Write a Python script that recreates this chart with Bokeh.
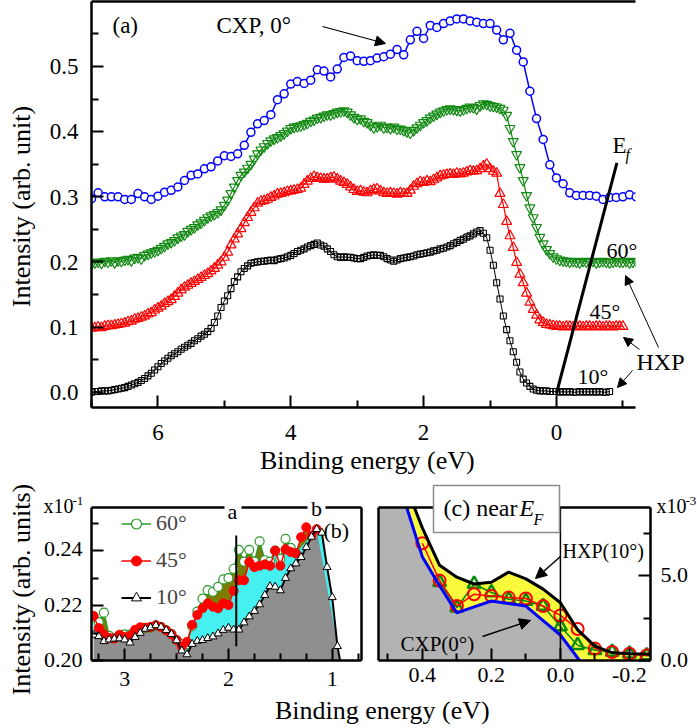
import numpy as np
from bokeh.plotting import figure
from bokeh.layouts import column, row
from bokeh.models import (Range1d, FixedTicker, LinearAxis, Label, Arrow, NormalHead, Span,
                          Legend, LegendItem, BoxAnnotation, GlobalInlineStyleSheet,
                          CustomLabelingPolicy)
from bokeh.embed import file_html
from bokeh.resources import INLINE

FONT = "Liberation Serif"

# ---------------- panel (a) data ----------------
E_CXP0 = np.round(np.linspace(7.0, -1.2, 83), 3)
CXP_0 = [0.297, 0.306, 0.300, 0.300, 0.300, 0.296, 0.296, 0.305, 0.300, 0.296,
         0.301, 0.307, 0.310, 0.315, 0.325, 0.333, 0.335, 0.343, 0.346, 0.355,
         0.363, 0.362, 0.366, 0.379, 0.399, 0.412, 0.417, 0.426, 0.449, 0.458,
         0.473, 0.477, 0.474, 0.479, 0.495, 0.493, 0.484, 0.496, 0.514, 0.516,
         0.509, 0.508, 0.509, 0.513, 0.515, 0.519, 0.526, 0.518, 0.541, 0.554,
         0.543, 0.563, 0.560, 0.566, 0.570, 0.573, 0.573, 0.570, 0.568, 0.566,
         0.566, 0.556, 0.541, 0.551, 0.525, 0.507, 0.462, 0.420, 0.388, 0.349,
         0.329, 0.320, 0.306, 0.302, 0.302, 0.302, 0.301, 0.296, 0.299, 0.299,
         0.300, 0.303, 0.300]

E_HXP60 = np.round(np.linspace(7.0, -1.2, 165), 3)
HXP_60 = [0.197, 0.199, 0.200, 0.198, 0.201, 0.200, 0.202, 0.199, 0.202, 0.201,
          0.203, 0.204, 0.202, 0.206, 0.207, 0.205, 0.210, 0.212, 0.214, 0.216,
          0.218, 0.221, 0.224, 0.228, 0.230, 0.233, 0.237, 0.240, 0.242, 0.247,
          0.250, 0.253, 0.257, 0.260, 0.264, 0.268, 0.271, 0.273, 0.276, 0.280,
          0.287, 0.295, 0.305, 0.315, 0.325, 0.333, 0.338, 0.344, 0.350, 0.358,
          0.366, 0.372, 0.377, 0.382, 0.386, 0.389, 0.391, 0.394, 0.397, 0.401,
          0.405, 0.407, 0.408, 0.409, 0.411, 0.413, 0.416, 0.418, 0.421, 0.422,
          0.424, 0.426, 0.426, 0.428, 0.430, 0.431, 0.432, 0.430, 0.426, 0.422,
          0.419, 0.420, 0.416, 0.414, 0.410, 0.406, 0.408, 0.410, 0.406, 0.407,
          0.405, 0.407, 0.404, 0.404, 0.402, 0.400, 0.398, 0.402, 0.406, 0.410,
          0.414, 0.417, 0.421, 0.424, 0.427, 0.430, 0.432, 0.434, 0.435, 0.434,
          0.433, 0.432, 0.434, 0.436, 0.438, 0.437, 0.435, 0.440, 0.443, 0.442,
          0.440, 0.439, 0.438, 0.436, 0.433, 0.425, 0.405, 0.385, 0.365, 0.345,
          0.325, 0.302, 0.283, 0.268, 0.253, 0.238, 0.228, 0.219, 0.213, 0.208,
          0.205, 0.203, 0.202, 0.201, 0.200, 0.201, 0.200, 0.199, 0.201, 0.200,
          0.200, 0.201, 0.199, 0.200, 0.201, 0.200, 0.199, 0.200, 0.201, 0.200,
          0.200, 0.201, 0.199, 0.200, 0.201]

E_HXP45 = np.round(np.linspace(7.0, -1.0, 161), 3)
HXP_45 = [0.098, 0.099, 0.100, 0.099, 0.101, 0.102, 0.102, 0.103, 0.104, 0.105,
          0.106, 0.108, 0.109, 0.112, 0.113, 0.115, 0.117, 0.120, 0.122, 0.126,
          0.129, 0.132, 0.136, 0.139, 0.142, 0.147, 0.152, 0.157, 0.161, 0.164,
          0.167, 0.170, 0.173, 0.176, 0.179, 0.182, 0.186, 0.190, 0.195, 0.200,
          0.207, 0.215, 0.226, 0.235, 0.243, 0.251, 0.260, 0.268, 0.276, 0.283,
          0.290, 0.293, 0.294, 0.296, 0.299, 0.301, 0.304, 0.305, 0.306, 0.308,
          0.309, 0.310, 0.311, 0.313, 0.319, 0.324, 0.328, 0.331, 0.329, 0.328,
          0.327, 0.327, 0.329, 0.330, 0.327, 0.324, 0.322, 0.319, 0.315, 0.311,
          0.308, 0.309, 0.307, 0.306, 0.309, 0.311, 0.312, 0.309, 0.306, 0.305,
          0.306, 0.305, 0.304, 0.306, 0.305, 0.305, 0.310, 0.316, 0.320, 0.323,
          0.322, 0.324, 0.323, 0.326, 0.329, 0.332, 0.333, 0.334, 0.335, 0.334,
          0.336, 0.335, 0.336, 0.338, 0.340, 0.339, 0.340, 0.343, 0.347, 0.350,
          0.343, 0.339, 0.336, 0.305, 0.288, 0.262, 0.240, 0.222, 0.199, 0.181,
          0.168, 0.152, 0.138, 0.127, 0.118, 0.111, 0.107, 0.104, 0.103, 0.102,
          0.101, 0.101, 0.100, 0.101, 0.101, 0.100, 0.101, 0.101, 0.100, 0.101,
          0.101, 0.100, 0.101, 0.101, 0.100, 0.101, 0.101, 0.100, 0.101, 0.101,
          0.101]

E_HXP10 = np.round(np.linspace(7.0, -0.8, 157), 3)
HXP_10 = [0.000, 0.001, 0.001, 0.002, 0.002, 0.002, 0.003, 0.004, 0.005, 0.006,
          0.007, 0.009, 0.011, 0.013, 0.015, 0.018, 0.021, 0.025, 0.029, 0.034,
          0.039, 0.044, 0.048, 0.052, 0.056, 0.059, 0.062, 0.066, 0.069, 0.072,
          0.075, 0.079, 0.082, 0.086, 0.089, 0.093, 0.098, 0.107, 0.117, 0.130,
          0.140, 0.148, 0.159, 0.170, 0.177, 0.185, 0.190, 0.194, 0.198, 0.199,
          0.200, 0.201, 0.201, 0.202, 0.203, 0.202, 0.204, 0.205, 0.206, 0.208,
          0.210, 0.213, 0.216, 0.218, 0.220, 0.223, 0.225, 0.227, 0.229, 0.226,
          0.224, 0.220, 0.216, 0.211, 0.208, 0.207, 0.208, 0.207, 0.207, 0.206,
          0.205, 0.205, 0.207, 0.209, 0.210, 0.211, 0.210, 0.210, 0.208, 0.205,
          0.203, 0.201, 0.203, 0.205, 0.206, 0.207, 0.208, 0.209, 0.211, 0.212,
          0.213, 0.214, 0.215, 0.217, 0.218, 0.220, 0.221, 0.223, 0.225, 0.228,
          0.230, 0.233, 0.235, 0.238, 0.240, 0.243, 0.246, 0.248, 0.244, 0.237,
          0.218, 0.195, 0.168, 0.143, 0.117, 0.096, 0.079, 0.062, 0.046, 0.031,
          0.020, 0.014, 0.009, 0.005, 0.003, 0.002, 0.002, 0.002, 0.001, 0.001,
          0.001, 0.000, 0.001, 0.000, 0.001, 0.000, 0.000, 0.001, 0.000, 0.001,
          0.000, 0.001, 0.000, 0.001, 0.000, 0.000, 0.001]

EF_X = [0.0, -0.91]
EF_Y = [-0.002, 0.352]

A_XTICKS = [6, 4, 2, 0]
A_XMINOR = [7, 5, 3, 1, -1]
A_YTICKS = [0.0, 0.1, 0.2, 0.3, 0.4, 0.5]
A_YMINOR = [0.05, 0.15, 0.25, 0.35, 0.45, 0.55]

# ---------------- panel (b) data ----------------
nan = float("nan")
B_E = [3.30, 3.25, 3.20, 3.15, 3.10, 3.05, 3.00, 2.95, 2.90, 2.85,
       2.80, 2.75, 2.70, 2.65, 2.60, 2.55, 2.50, 2.45, 2.40, 2.35,
       2.30, 2.25, 2.20, 2.15, 2.10, 2.05, 2.00, 1.95, 1.90, 1.85,
       1.80, 1.75, 1.70, 1.65, 1.60, 1.55, 1.50, 1.45, 1.40, 1.35,
       1.30, 1.25, 1.20, 1.15, 1.10, 1.05, 1.00, 0.95, 0.90]
B_10 = [0.2093, 0.2088, 0.2070, 0.2076, 0.2079, 0.2080, 0.2076, 0.2065, 0.2085, 0.2100,
        0.2115, 0.2120, 0.2128, 0.2122, 0.2110, 0.2096, 0.2073, 0.2036, 0.2022, 0.2060,
        0.2071, 0.2074, 0.2081, 0.2087, 0.2098, 0.2111, 0.2119, 0.2112, 0.2112, 0.2138,
        0.2160, 0.2180, 0.2204, 0.2238, 0.2270, 0.2268, 0.2255, 0.2300, 0.2335, 0.2353,
        0.2376, 0.2412, 0.2450, 0.2478, 0.2465, 0.2340, 0.2230, 0.2052, 0.1950]
B_45 = [0.2162, 0.2118, 0.2095, 0.2082, 0.2080, 0.2094, 0.2085, 0.2090, 0.2112, 0.2121,
        0.2120, 0.2122, 0.2128, 0.2122, 0.2110, 0.2096, 0.2075, 0.2050, 0.2068, 0.2130,
        0.2166, 0.2190, 0.2208, 0.2196, 0.2190, 0.2208, 0.2202, 0.2254, 0.2292, 0.2292,
        0.2358, 0.2340, 0.2345, 0.2350, 0.2345, 0.2400, 0.2345, 0.2405, 0.2395, 0.2390,
        0.2449, 0.2485, 0.2455, 0.2478, nan, nan, nan, nan, nan]
B_60 = [0.2160, 0.2140, 0.2174, 0.2090, 0.2082, 0.2090, 0.2095, 0.2094, 0.2100, 0.2112,
        0.2118, 0.2120, 0.2128, 0.2122, 0.2110, 0.2096, 0.2073, 0.2061, 0.2060, 0.2125,
        0.2178, 0.2225, 0.2256, 0.2250, 0.2268, 0.2295, 0.2300, 0.2334, 0.2403, 0.2360,
        0.2403, 0.2360, 0.2434, 0.2365, 0.2360, 0.2400, 0.2370, 0.2443, 0.2410, 0.2390,
        nan, nan, nan, nan, nan, nan, nan, nan, nan]
B_MARK_A_X = [1.925, 1.925]
B_MARK_A_Y = [0.2052, 0.2455]
B_XTICKS = [3, 2, 1]
B_XMINOR = [3.25, 2.75, 2.5, 2.25, 1.75, 1.5, 1.25, 0.75]
B_YTICKS = [0.20, 0.22, 0.24]
B_YMINOR = [0.21, 0.23, 0.25]

# ---------------- panel (c) data (x10^-3) ----------------
C_E = [0.55, 0.50, 0.45, 0.40, 0.35, 0.30, 0.25, 0.20, 0.15, 0.10,
       0.05, 0.00, -0.05, -0.10, -0.15, -0.20, -0.25, -0.30]
C_CXP0 = [15.0, 12.5, 9.3, 6.1, 4.4, 2.8, 3.15, 3.5, 3.35, 3.2,
          2.35, 1.5, 0.15, -1.2, nan, nan, nan, nan]
C_HXP10 = [15.8, 13.1, 10.4, 7.8, 5.6, 4.9, 4.5, 4.6, 5.2, 4.8,
           4.2, 3.4, 1.8, 0.85, 0.45, 0.4, 0.38, 0.3]
C_HXP45 = [nan, nan, nan, 6.9, 4.7, 3.2, 3.9, 3.8, 3.7, 3.65,
           3.2, 2.65, 1.85, 0.7, 0.5, 0.4, 0.3, 0.2]
C_HXP60 = [nan, nan, nan, nan, 4.6, 3.1, 4.5, 4.0, 3.6, 3.5,
           3.2, 2.0, 0.9, 0.6, 0.5, 0.4, 0.3, 0.25]
C_XTICKS = [0.4, 0.2, 0.0, -0.2]
C_XMINOR = [0.5, 0.3, 0.1, -0.1]
C_YTICKS = [0.0, 5.0]
C_YMINOR = [2.5, 7.5]

# ---------------- page geometry of the three frames (px) ----------------
W, H = 697, 728
TOP_F = dict(l=91, r=635, t=1, b=407)
B_F = dict(l=91, r=361, t=506, b=660)
C_F = dict(l=378, r=650, t=507, b=660)
ROW_Y = 480
BH = H - ROW_Y

HIDE_LABELS = CustomLabelingPolicy(
    code="const n = indices.size; for (let i = 0; i < n; i++) { indices.unset(i) } return indices")

# Times-compatible advance widths (1/1000 em) for placing left-anchored texts
TW = {" ": 250, "(": 333, ")": 333, ".": 250, "-": 333, ",": 250, "°": 400,
      "B": 667, "C": 667, "E": 611, "F": 556, "H": 722, "I": 333, "P": 556, "V": 722, "X": 722,
      "a": 444, "b": 500, "c": 444, "d": 500, "e": 444, "f": 333, "g": 500, "i": 278, "n": 500,
      "r": 333, "s": 389, "t": 278, "u": 500, "y": 500, "x": 500}


def tw(text, size):
    return sum(TW.get(c, 500) for c in text) * size / 1000.0


def mapper(f, xr, yr):
    def mx(v):
        return f["l"] + (v - xr.start) / (xr.end - xr.start) * (f["r"] - f["l"])

    def my(v):
        return f["b"] - (v - yr.start) / (yr.end - yr.start) * (f["b"] - f["t"])
    return mx, my


def style_axis(ax):
    ax.axis_line_width = 2.5
    ax.axis_line_color = "black"
    ax.major_tick_line_width = 2
    ax.minor_tick_line_width = 2
    ax.major_tick_line_color = "black"
    ax.minor_tick_line_color = "black"
    ax.major_tick_in = 12
    ax.major_tick_out = 0
    ax.minor_tick_in = 7
    ax.minor_tick_out = 0
    ax.major_label_policy = HIDE_LABELS


def bare_axis(fig, place):
    ax = LinearAxis(ticker=FixedTicker(ticks=[]), axis_line_width=2.5, axis_line_color="black",
                    major_tick_in=0, major_tick_out=0, minor_tick_in=0, minor_tick_out=0)
    fig.add_layout(ax, place)


def base_fig(w, h, xr, yr, f, x0, y0, **kw):
    p = figure(width=w, height=h, x_range=xr, y_range=yr, output_backend="svg",
               toolbar_location=None,
               min_border_left=f["l"] - x0, min_border_right=x0 + w - f["r"],
               min_border_top=f["t"] - y0, min_border_bottom=y0 + h - f["b"], **kw)
    p.outline_line_color = None
    p.xgrid.visible = False
    p.ygrid.visible = False
    p.border_fill_color = "white"
    for ax in p.xaxis + p.yaxis:
        style_axis(ax)
    return p

# ---------------- panel (a) ----------------
top = base_fig(W, ROW_Y, Range1d(7.0, -1.19), Range1d(-0.0235, 0.5998), TOP_F, 0, 0)
top.xaxis.ticker = FixedTicker(ticks=A_XTICKS, minor_ticks=A_XMINOR)
top.yaxis.ticker = FixedTicker(ticks=A_YTICKS, minor_ticks=A_YMINOR)
bare_axis(top, "above")

GA = "#138a13"
top.line(E_CXP0, CXP_0, line_color="blue", line_width=1.5)
top.scatter(E_CXP0, CXP_0, marker="circle", size=8, line_color="blue", fill_color="white", line_width=1.5)
top.line(E_HXP60, HXP_60, line_color=GA, line_width=1.2)
top.scatter(E_HXP60, HXP_60, marker="inverted_triangle", size=10, line_color=GA, fill_color=None, line_width=1.2)
top.line(E_HXP45, HXP_45, line_color="red", line_width=1.2)
top.scatter(E_HXP45, HXP_45, marker="triangle", size=10, line_color="red", fill_color=None, line_width=1.2)
top.line(E_HXP10, HXP_10, line_color="black", line_width=1.0)
top.scatter(E_HXP10, HXP_10, marker="square", size=6, line_color="black", fill_color=None, line_width=1.1)
top.line(EF_X, EF_Y, line_color="black", line_width=3)

# ---------------- panel (b) ----------------
pb = base_fig(370, BH, Range1d(3.32, 0.718), Range1d(0.20, 0.2557), B_F, 0, ROW_Y)
pb.xaxis.ticker = FixedTicker(ticks=B_XTICKS, minor_ticks=B_XMINOR)
pb.yaxis.ticker = FixedTicker(ticks=B_YTICKS, minor_ticks=B_YMINOR)
bare_axis(pb, "above")
bare_axis(pb, "right")

GB = "#2a9a2a"
pb.varea(x=B_E, y1=pb.y_range.start - 0.01, y2=B_10, fill_color="#8f8f8f")
pb.varea(x=B_E, y1=B_10, y2=B_45, fill_color="#45f0f0")
pb.varea(x=B_E, y1=B_45, y2=B_60, fill_color="#7d7d05")
l60 = pb.line(B_E, B_60, line_color=GB, line_width=1.5)
s60 = pb.scatter(B_E, B_60, marker="circle", size=9, line_color=GB, fill_color="white", line_width=1.2)
l45 = pb.line(B_E, B_45, line_color="red", line_width=1.5)
s45 = pb.scatter(B_E, B_45, marker="circle", size=9, line_color="red", fill_color="red")
l10 = pb.line(B_E, B_10, line_color="black", line_width=2)
s10 = pb.scatter(B_E, B_10, marker="triangle", size=8, line_color="black", fill_color="white", line_width=1)
pb.line(B_MARK_A_X, B_MARK_A_Y, line_color="black", line_width=2)

leg = Legend(items=[LegendItem(label="60°", renderers=[l60, s60]),
                    LegendItem(label="45°", renderers=[l45, s45]),
                    LegendItem(label="10°", renderers=[l10, s10])],
             location=(30, 50), orientation="vertical")
leg.background_fill_alpha = 0
leg.border_line_color = None
leg.label_text_font = FONT
leg.label_text_font_size = "22px"
leg.glyph_width = 30
leg.glyph_height = 25
leg.label_height = 25
leg.spacing = 11
leg.padding = 0
leg.margin = 0
leg.label_standoff = 5
pb.add_layout(leg)

# ---------------- panel (c) ----------------
pc = base_fig(W - 370, BH, Range1d(0.527, -0.261), Range1d(0.0, 9.0), C_F, 370, ROW_Y,
              y_axis_location="right")
for ax in pc.yaxis:
    style_axis(ax)
pc.xaxis.ticker = FixedTicker(ticks=C_XTICKS, minor_ticks=C_XMINOR)
pc.yaxis.ticker = FixedTicker(ticks=C_YTICKS, minor_ticks=C_YMINOR)
bare_axis(pc, "above")
bare_axis(pc, "left")

cxp_floor = np.nan_to_num(np.clip(np.array(C_CXP0), 0, None), nan=0.0)
pc.varea(x=C_E, y1=0.0, y2=C_CXP0, fill_color="#b3b3b3")
pc.varea(x=C_E, y1=cxp_floor, y2=C_HXP10, fill_color="#fafa3c")
GC = "#0a8a0a"
pc.line(C_E, C_HXP60, line_color=GC, line_width=1.5)
pc.scatter(C_E, C_HXP60, marker="triangle", size=13, line_color=GC, fill_color=None, line_width=2.5)
pc.line(C_E, C_HXP45, line_color="red", line_width=1.5)
pc.scatter(C_E, C_HXP45, marker="circle", size=12, line_color="red", fill_color=None, line_width=2)
pc.line(C_E, C_CXP0, line_color="blue", line_width=3)
pc.line(C_E, C_HXP10, line_color="black", line_width=3)
pc.add_layout(Span(location=0.0, dimension="height", line_color="black", line_width=1.5))

# ---------------- text overlay (page pixel coordinates, separate root) ----------------
ov = figure(width=W, height=H, x_range=Range1d(0, W), y_range=Range1d(0, H),
            output_backend="svg", toolbar_location=None, x_axis_location=None, y_axis_location=None,
            min_border_left=0, min_border_right=0, min_border_top=0, min_border_bottom=0,
            styles={"position": "absolute", "left": "0px", "top": "0px", "z-index": "10"})
ov.outline_line_color = None
ov.xgrid.visible = False
ov.ygrid.visible = False
ov.background_fill_color = None
ov.border_fill_color = None
ov.title.visible = False


def T(px, py, text, size, align="left", style="normal"):
    """px: anchor x (left/center/right per align), py: text baseline (page px)."""
    w = tw(text, size)
    left = px - (w / 2 if align == "center" else (w if align == "right" else 0))
    ymid = py - 0.3375 * size
    ov.add_layout(Label(x=left, y=H - ymid, text=text, text_font=FONT, text_font_size=f"{size}px",
                        text_align="left", text_baseline="middle", text_font_style=style,
                        text_color="black"))


def TR(cx, cy, text, size):
    """Vertical text (reading upwards) centred on (cx, cy)."""
    w = tw(text, size)
    ov.add_layout(Label(x=cx, y=H - (cy + w / 2), text=text, text_font=FONT,
                        text_font_size=f"{size}px", text_align="left", text_baseline="middle",
                        text_color="black", angle=np.pi / 2))


def A(p0, p1, size=10, lw=1.2):
    ov.add_layout(Arrow(end=NormalHead(size=size, fill_color="black", line_color="black"),
                        x_start=p0[0], y_start=H - p0[1], x_end=p1[0], y_end=H - p1[1],
                        line_color="black", line_width=lw))


def BOX(l, r, t, b, fill="white", line=None, lw=1.5):
    ov.add_layout(BoxAnnotation(left=l, right=r, top=H - t, bottom=H - b, fill_color=fill,
                                fill_alpha=1.0, line_color=line, line_width=lw, line_alpha=1.0))


ax_x, ax_y = mapper(TOP_F, top.x_range, top.y_range)
bx_x, bx_y = mapper(B_F, pb.x_range, pb.y_range)
cx_x, cx_y = mapper(C_F, pc.x_range, pc.y_range)

# panel (a) axes texts
for t in A_XTICKS:
    T(ax_x(t), 440, f"{t:g}", 23, align="center")
for t in A_YTICKS:
    T(TOP_F["l"] - 13, ax_y(t) + 8, f"{t:.1f}", 23, align="right")
T(367, 469, "Binding energy (eV)", 26, align="center")
TR(21, 206, "Intensity (arb. unit)", 26)

# panel (a) annotations
T(112, 33, "(a)", 23)
T(216, 33, "CXP, 0°", 23)
A((322, 26), (385, 43))
T(612, 153, "E", 23)
T(625, 159, "f", 16, style="italic")
T(606, 257, "60°", 22)
T(589, 318, "45°", 22)
T(577, 383, "10°", 22)
T(636, 370, "HXP", 24)
A((658, 347), (625, 275), size=9, lw=1)
A((639, 349), (623, 337), size=9, lw=1)
A((632, 370), (617, 387), size=9, lw=1)

# panel (b) texts
for t in B_XTICKS:
    T(bx_x(t), 686, f"{t:g}", 22, align="center")
for t in B_YTICKS:
    T(B_F["l"] - 9, bx_y(t) + 7, f"{t:.2f}", 22, align="right")
TR(21, 589, "Intensity (arb. units)", 26)
T(43, 512, "x10", 20)
T(72, 505, "-1", 13)
BOX(224, 241, 502, 510)
BOX(307, 325, 502, 510)
T(232, 518, "a", 22, align="center")
T(316, 515, "b", 22, align="center")
T(323, 537, "(b)", 22)

# panel (c) texts
for t in C_XTICKS:
    T(cx_x(t), 682, f"{t:.1f}", 22, align="center")
for t in C_YTICKS:
    T(C_F["r"] + 10, cx_y(t) + 7, f"{t:.1f}", 22)
BOX(433, 559, 485, 532, line="#8c8c8c")
T(443, 516, "(c) near", 24)
T(519, 516, "E", 24, style="italic")
T(533, 524, "F", 16, style="italic")
T(562, 557, "HXP(10°)", 20)
A((560, 556), (535, 578), size=11, lw=1.5)
T(400, 651, "CXP(0°)", 21)
A((482, 636), (530, 620), size=11, lw=1.5)
T(656, 512, "x10", 20)
T(685, 505, "-3", 13)

# shared axis title of the lower panels
T(382, 719, "Binding energy (eV)", 26, align="center")

lay = column(top, row(pb, pc))
lay.stylesheets = [GlobalInlineStyleSheet(css="html, body { margin: 0 !important; padding: 0; overflow: hidden; }")]

open("out.html", "w").write(file_html([lay, ov], INLINE))
